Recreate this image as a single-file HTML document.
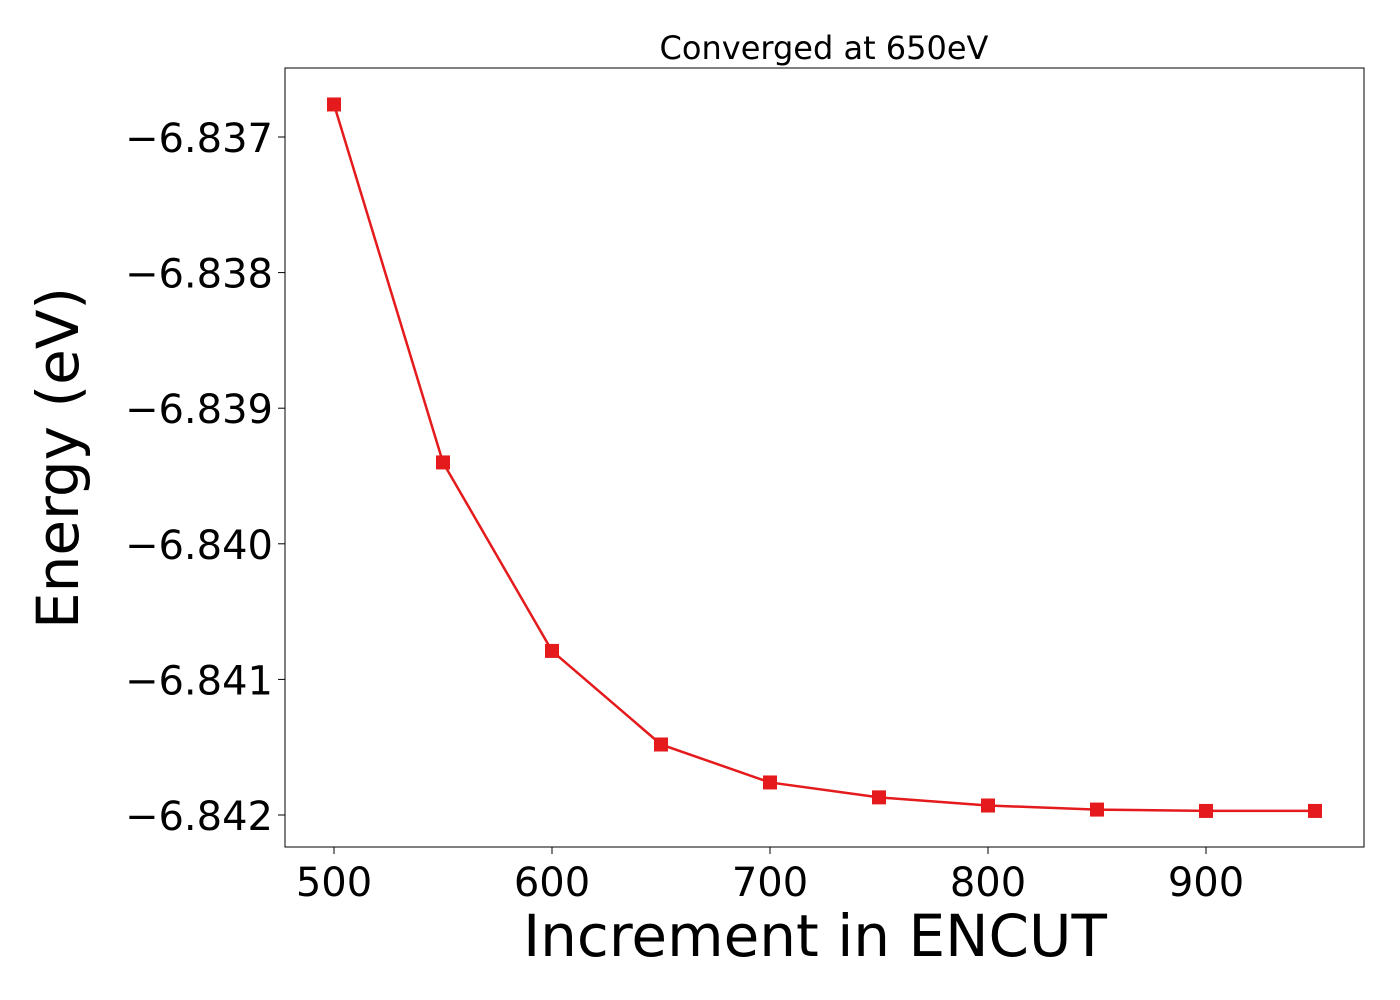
<!DOCTYPE html>
<html><head><meta charset="utf-8"><style>
body{margin:0;background:#fff;}
svg{display:block;font-family:"DejaVu Sans","Liberation Sans",sans-serif;}
</style></head><body>
<svg id="chart" width="1400" height="1000">
<rect x="0" y="0" width="1400" height="1000" fill="#fff"/>
<g id="plot"></g>
</svg>
<script>
const categories=[500,550,600,650,700,750,800,850,900,950];
const energies=[-6.83676,-6.83940,-6.84079,-6.84148,-6.84176,-6.84187,-6.84193,-6.84196,-6.84197,-6.84197];
const xTicks=[500,600,700,800,900];
const yTicks=[-6.837,-6.838,-6.839,-6.840,-6.841,-6.842];
const yTickLabels=["\u22126.837","\u22126.838","\u22126.839","\u22126.840","\u22126.841","\u22126.842"];
const NS="http://www.w3.org/2000/svg";
const L=285,R=1364,T=68,B=847;
function xs(v){return 334+(v-500)*2.18;}
function ys(v){return 137+(-6.837-v)*135600;}
const g=document.getElementById('plot');
function mk(t,a,txt){const e=document.createElementNS(NS,t);for(const k in a)e.setAttribute(k,a[k]);if(txt!==undefined)e.textContent=txt;g.appendChild(e);return e;}
let e=mk('rect',{x:L,y:T,width:R-L,height:B-T,fill:'none',stroke:'#000','stroke-width':1});


xTicks.forEach(v=>{
 let t=mk('line',{x1:xs(v),x2:xs(v),y1:B,y2:B+7,stroke:'#000','stroke-width':1});
 
 
 let l=mk('text',{x:xs(v),y:B+49,'font-size':40,'text-anchor':'middle'},String(v));
 
 
});
yTicks.forEach((v,i)=>{
 let t=mk('line',{x1:L-7,x2:L,y1:ys(v),y2:ys(v),stroke:'#000','stroke-width':1});
 
 
 let l=mk('text',{x:L-12,y:ys(v)+15,'font-size':40,'text-anchor':'end'},yTickLabels[i]);
 
 
});
let pts=categories.map((c,i)=>xs(c)+','+ys(energies[i])).join(' ');
let line=mk('polyline',{points:pts,fill:'none',stroke:'#e41a1c','stroke-width':2.5});


categories.forEach((c,i)=>{
 let m=mk('rect',{x:xs(c)-7,y:ys(energies[i])-7,width:14,height:14,fill:'#e41a1c'});
 
 
});
let tt=mk('text',{x:824,y:59,'font-size':32,'text-anchor':'middle'},'Converged at 650eV');


let xl=mk('text',{x:815,y:956,'font-size':58,'text-anchor':'middle'},'Increment in ENCUT');


let yl=mk('text',{x:0,y:0,'font-size':58,'text-anchor':'middle',transform:'translate(78,458) rotate(-90)'},'Energy (eV)');


</script>
</body></html>
